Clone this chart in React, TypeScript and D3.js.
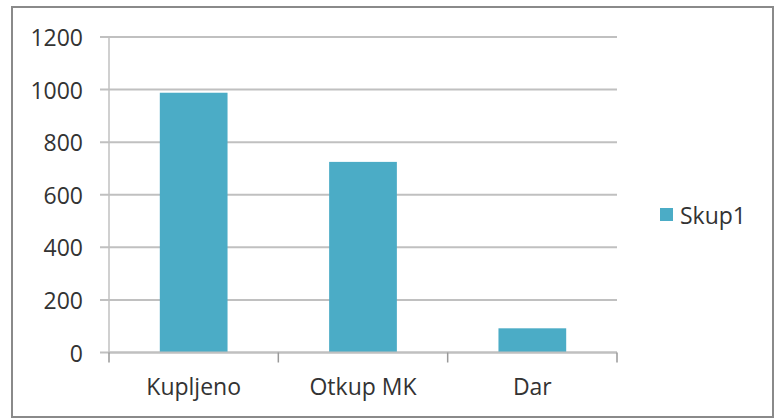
import React from "react";
import * as d3 from "d3";

const categories: string[] = ["Kupljeno", "Otkup MK", "Dar"];
const values: number[] = [988, 725, 92];
const yTicks: number[] = [0, 200, 400, 600, 800, 1000, 1200];
const seriesName = "Skup1";

const W = 781;
const H = 419;
const plot = { left: 109, right: 617, top: 37, bottom: 352.5 };
const FONT = "'Open Sans', sans-serif";
const BAR = "#4BACC6";
const GRID = "#C0C0C0";
const TEXT = "#333333";
const FS = 23;

export default function App() {
  const x = d3.scaleBand<string>().domain(categories).range([plot.left, plot.right]).paddingInner(0.6).paddingOuter(0.3);
  const band = d3.scaleBand<string>().domain(categories).range([plot.left, plot.right]);
  const y = d3.scaleLinear().domain([0, 1200]).range([plot.bottom, plot.top]);

  const boundaries = [...categories.map((c) => band(c) as number), plot.right];

  return (
    <div style={{ position: "fixed", left: 0, top: 0, width: W, height: H, background: "#fff" }}>
      <svg width={W} height={H} style={{ display: "block" }}>
        <rect x={0} y={0} width={W} height={H} fill="#fff" />
        <rect x={12} y={7} width={761} height={410} fill="#fff" stroke="#8a8a8a" strokeWidth={2} />
        {yTicks.map((t) => (
          <g key={t}>
            <line x1={100} x2={plot.right} y1={y(t)} y2={y(t)} stroke={GRID} strokeWidth={2} />
            <text x={83} y={y(t)} textAnchor="end" dominantBaseline="central" fontFamily={FONT} fontSize={FS} fill={TEXT}>
              {t}
            </text>
          </g>
        ))}
        <line x1={plot.left} x2={plot.left} y1={plot.top} y2={plot.bottom} stroke={GRID} strokeWidth={1.5} />
        {categories.map((c, i) => (
          <rect key={c} x={x(c)} y={y(values[i])} width={x.bandwidth()} height={y(0) - y(values[i])} fill={BAR} />
        ))}
        <line x1={plot.left} x2={plot.right} y1={plot.bottom} y2={plot.bottom} stroke={GRID} strokeWidth={2} />
        {boundaries.map((b, i) => (
          <line key={i} x1={b} x2={b} y1={plot.bottom} y2={plot.bottom + 10} stroke="#999" strokeWidth={1.5} />
        ))}
        {categories.map((c) => (
          <text key={c} x={(band(c) as number) + band.bandwidth() / 2} y={386} textAnchor="middle" dominantBaseline="central" fontFamily={FONT} fontSize={FS} fill={TEXT}>
            {c}
          </text>
        ))}
        <rect x={660} y={208} width={13} height={13} fill={BAR} />
        <text x={680} y={215} dominantBaseline="central" fontFamily={FONT} fontSize={FS} fill={TEXT}>
          {seriesName}
        </text>
      </svg>
    </div>
  );
}
